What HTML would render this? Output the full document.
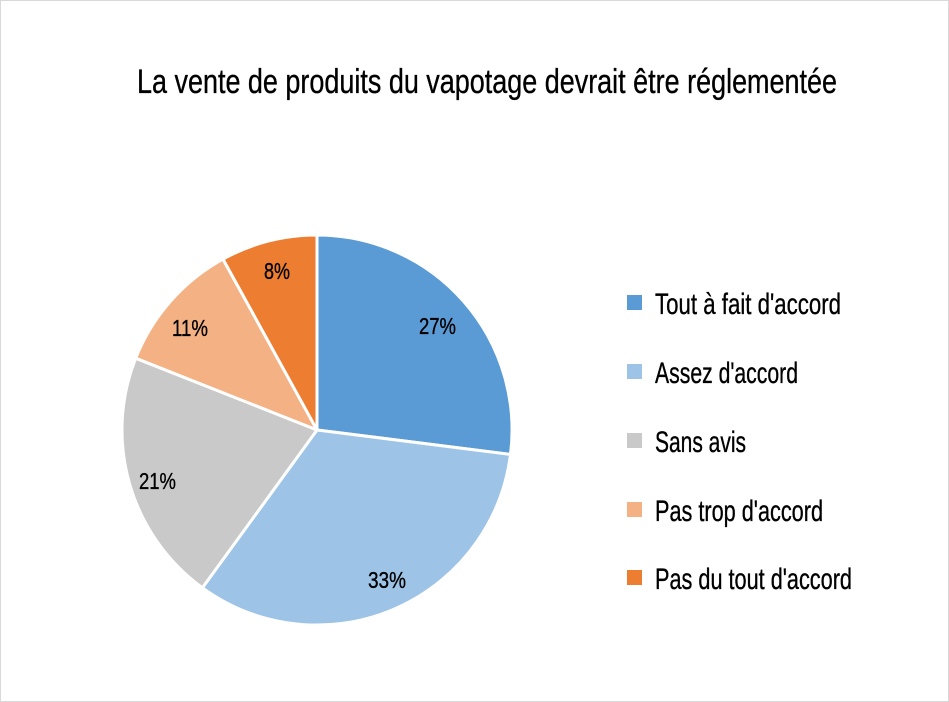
<!DOCTYPE html>
<html><head><meta charset="utf-8"><style>
html,body{margin:0;padding:0;background:#fff;}
svg{display:block;}
text{font-family:"Liberation Sans Narrow","Liberation Sans",sans-serif;fill:#000;stroke:#000;stroke-width:0.35;}
</style></head><body>
<svg width="949" height="702" viewBox="0 0 949 702" xmlns="http://www.w3.org/2000/svg">
<rect x="0.5" y="0.5" width="948" height="701" fill="#fff" stroke="#d9d9d9"/>
<text x="137" y="93" font-size="34" textLength="700" lengthAdjust="spacingAndGlyphs">La vente de produits du vapotage devrait être réglementée</text>
<g stroke="#fff" stroke-width="3" stroke-linejoin="round">
<path d="M317,430 L317,235 A195,195 0 0 1 510.5,454.4 Z" fill="#5B9BD5"/>
<path d="M317,430 L510.5,454.4 A195,195 0 0 1 202.4,587.8 Z" fill="#9DC3E6"/>
<path d="M317,430 L202.4,587.8 A195,195 0 0 1 135.7,358.2 Z" fill="#C9C9C9"/>
<path d="M317,430 L135.7,358.2 A195,195 0 0 1 223.0,259.1 Z" fill="#F4B183"/>
<path d="M317,430 L223.0,259.1 A195,195 0 0 1 317,235 Z" fill="#ED7D31"/>
</g>
<g font-size="23">
<text x="419" y="334" textLength="37" lengthAdjust="spacingAndGlyphs">27%</text>
<text x="368" y="588" textLength="38" lengthAdjust="spacingAndGlyphs">33%</text>
<text x="139" y="489" textLength="37" lengthAdjust="spacingAndGlyphs">21%</text>
<text x="172" y="336" textLength="36" lengthAdjust="spacingAndGlyphs">11%</text>
<text x="264" y="279" textLength="26" lengthAdjust="spacingAndGlyphs">8%</text>
</g>
<rect x="627" y="295" width="15" height="15" fill="#5B9BD5"/>
<rect x="627" y="364" width="15" height="15" fill="#9DC3E6"/>
<rect x="627" y="433" width="15" height="15" fill="#C9C9C9"/>
<rect x="627" y="502" width="15" height="15" fill="#F4B183"/>
<rect x="627" y="570" width="15" height="15" fill="#ED7D31"/>
<g font-size="30">
<text x="655" y="314" textLength="186" lengthAdjust="spacingAndGlyphs">Tout à fait d'accord</text>
<text x="655" y="383" textLength="143" lengthAdjust="spacingAndGlyphs">Assez d'accord</text>
<text x="655" y="452" textLength="91" lengthAdjust="spacingAndGlyphs">Sans avis</text>
<text x="655" y="521" textLength="168" lengthAdjust="spacingAndGlyphs">Pas trop d'accord</text>
<text x="655" y="589" textLength="197" lengthAdjust="spacingAndGlyphs">Pas du tout d'accord</text>
</g>
</svg>
</body></html>
